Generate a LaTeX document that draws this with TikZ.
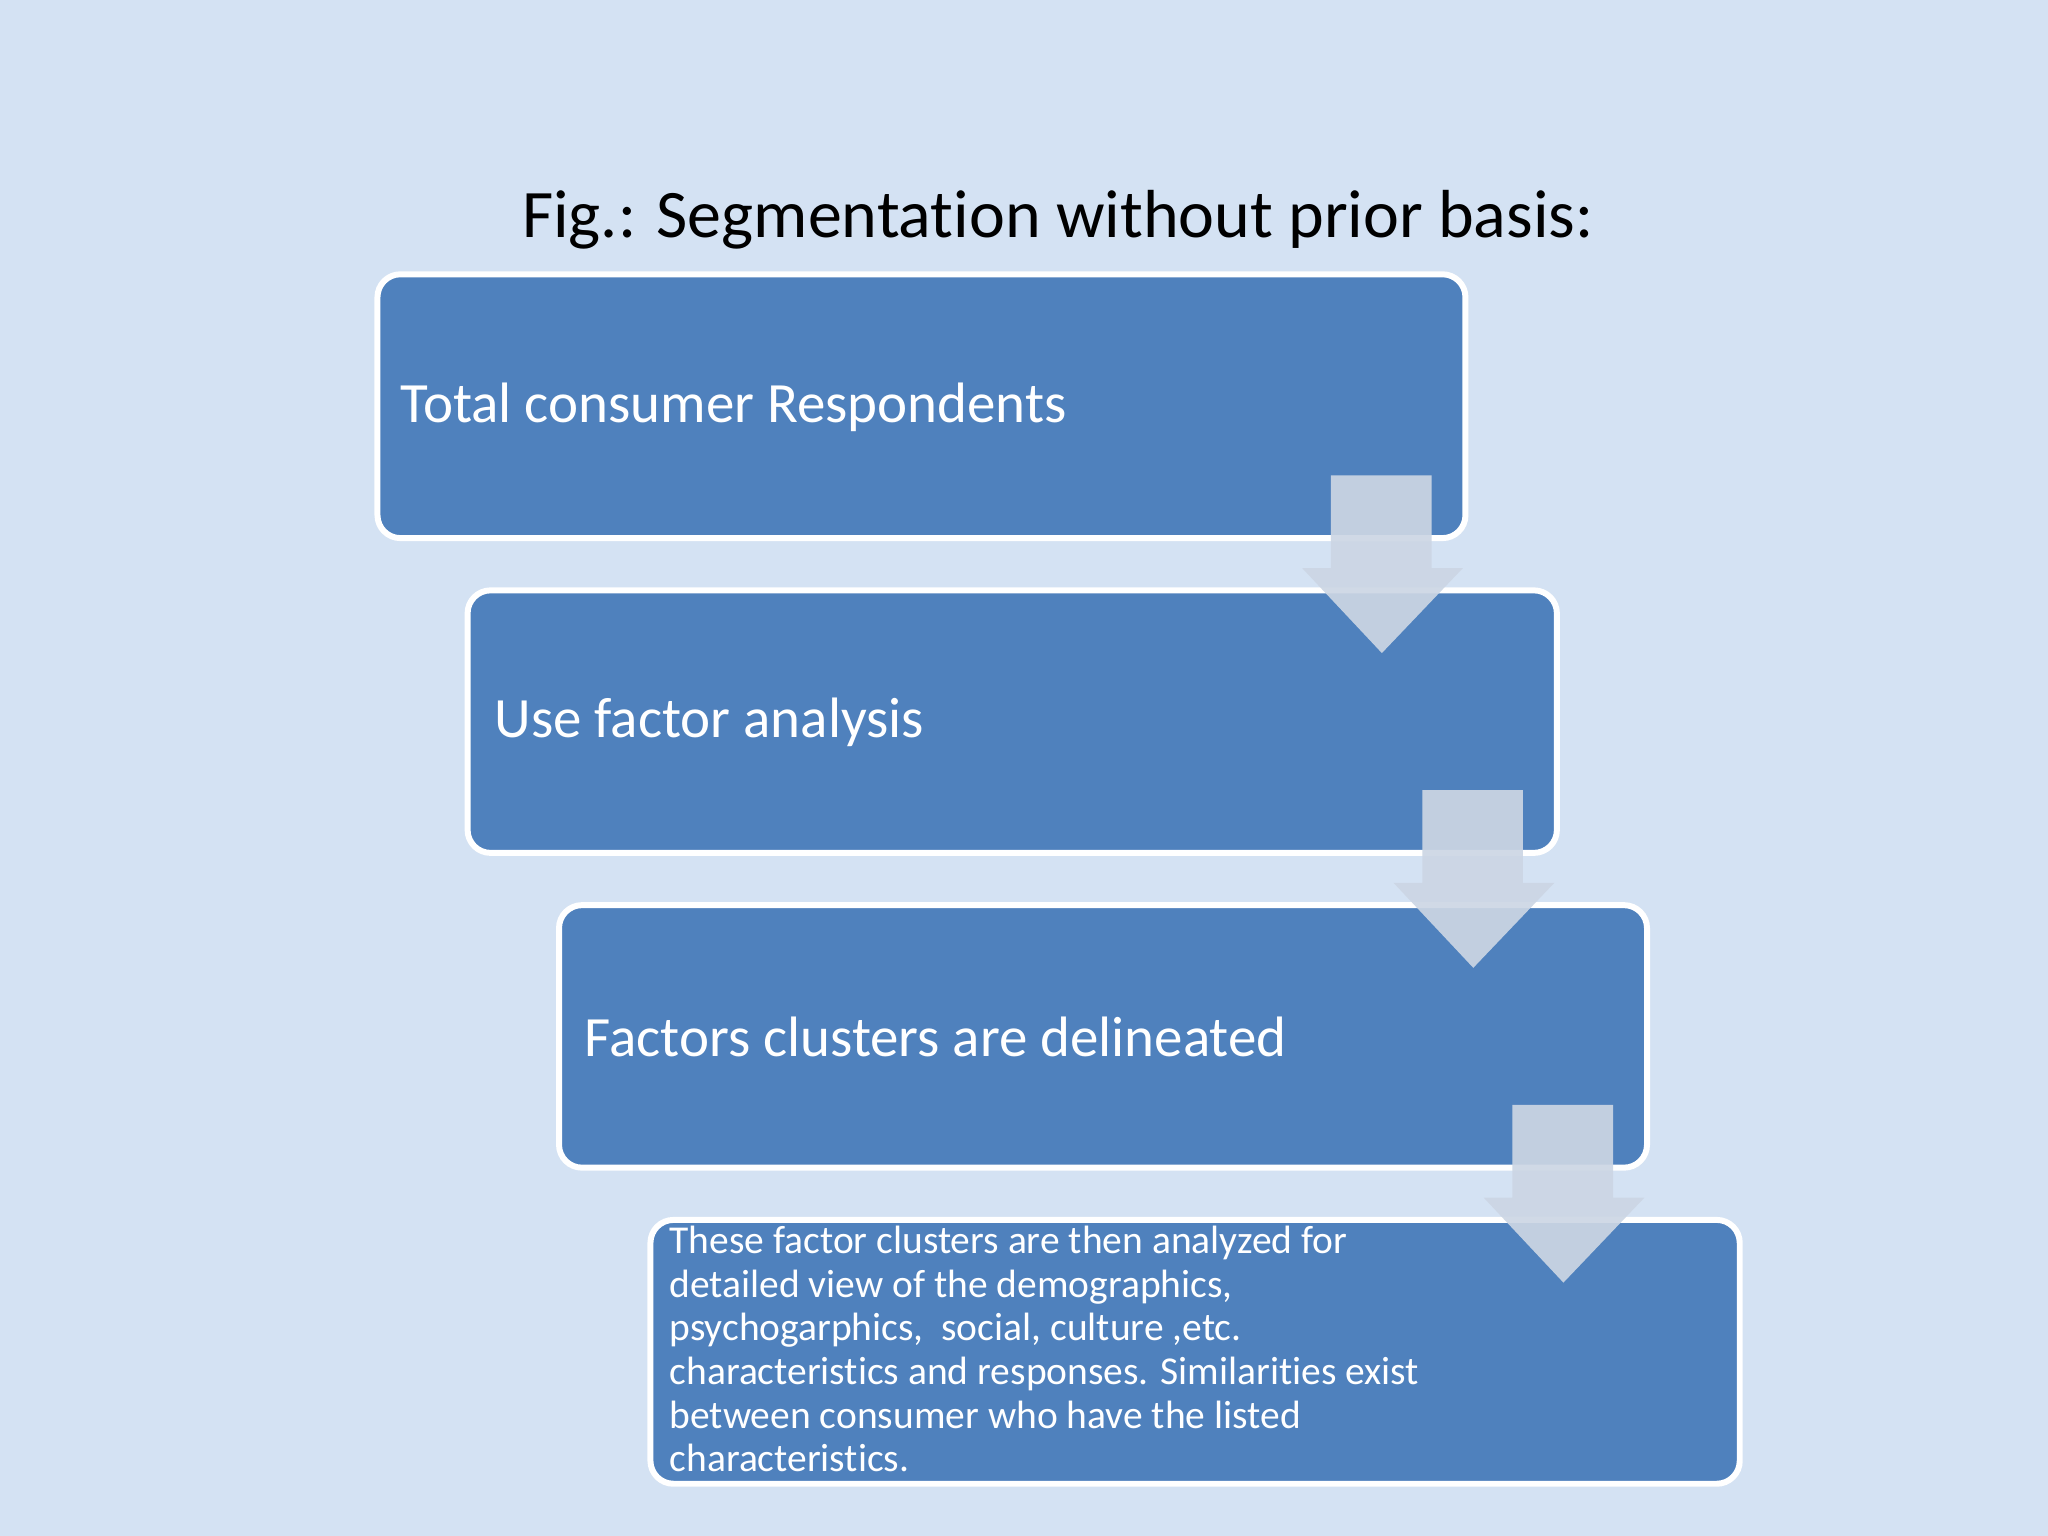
\documentclass[tikz,border=0pt]{standalone}
\usepackage{fontspec}
\setmainfont{Carlito}[RawFeature={-liga;-dlig;-clig;-calt;-rlig}]
\definecolor{bg}{RGB}{212,226,243}
\definecolor{boxc}{RGB}{79,129,189}
\definecolor{arrc}{RGB}{204,214,228}
\begin{document}
\begin{tikzpicture}[x=0.01cm,y=-0.01cm,
  boxst/.style={draw=white,line width=1.3pt,fill=boxc,rounded corners=5pt},
  arrst/.style={fill=arrc,fill opacity=0.92,draw=none},
  lab/.style={anchor=west,text=white,inner sep=0pt,font=\fontsize{12.4}{14}\selectfont}]
\fill[bg] (0,0) rectangle (1568,1176);
\useasboundingbox (0,0) rectangle (1568,1176);
\node[font=\fontsize{14.8}{17}\selectfont,text=black] (title) at (810,168) {Fig.: Segmentation without prior basis:};
\draw[boxst] (289,210) rectangle (1122,412);
\draw[boxst] (358,452) rectangle (1192,653);
\draw[boxst] (428,693) rectangle (1261,894);
\draw[boxst] (498,934) rectangle (1332,1136);
\node[lab] (t1) at (306,312) {Total consumer Respondents};
\node[lab] (t2) at (378,553) {Use factor analysis};
\node[lab] (t3) at (447,794) {Factors clusters are delineated};
\node[anchor=north west,text=white,inner sep=0pt,align=left,font=\fontsize{8.6}{9.5}\selectfont] (t4) at (512,938)
{These factor clusters are then analyzed for\\detailed view of the demographics,\\psychogarphics,~ social, culture ,etc.\\characteristics and responses. Similarities exist\\between consumer who have the listed\\characteristics.};
\foreach \dx/\dy in {0/0,70/241,139/482}{
  \fill[arrst] (1019+\dx,364+\dy) -- (1096+\dx,364+\dy) -- (1096+\dx,435+\dy) -- (1120+\dx,435+\dy)
    -- (1058+\dx,500+\dy) -- (997+\dx,435+\dy) -- (1019+\dx,435+\dy) -- cycle;
}
\end{tikzpicture}
\end{document}
